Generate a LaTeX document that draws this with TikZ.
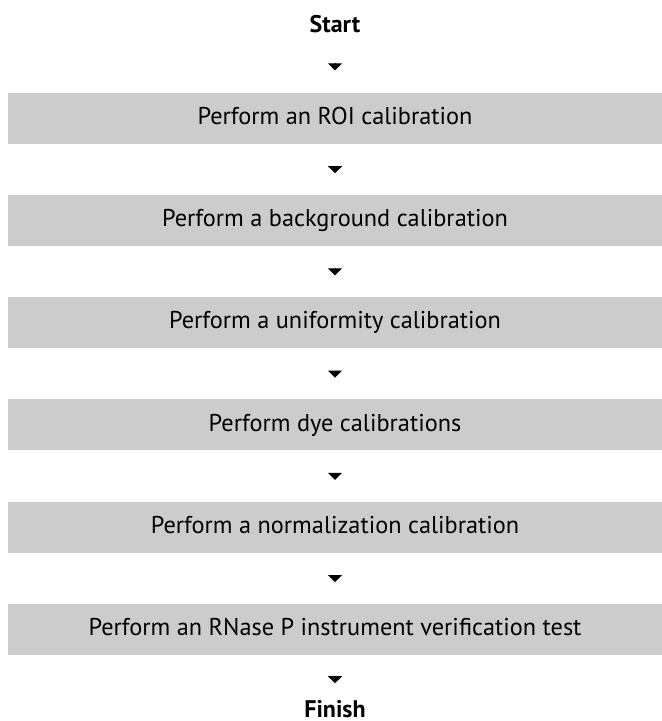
\documentclass[tikz,border=0pt]{standalone}
\usepackage{fontspec}
\setmainfont{PT Sans}
\usetikzlibrary{positioning}
\usetikzlibrary{arrows.meta}
\definecolor{stepgray}{HTML}{CCCCCC}

\begin{document}
\begin{tikzpicture}[
    font=\fontsize{12.15}{14}\selectfont,
    stepbox/.style={
        fill=stepgray,
        minimum width=327pt,
        minimum height=25.5pt,
        inner sep=0pt,
        text height=8.4pt,
        text depth=2.2pt,
    },
    ends/.style={
        font=\fontsize{12}{14}\selectfont\bfseries,
        inner sep=0pt,
        text depth=0pt,
    },
    flow/.style 2 args={
        -{Triangle[width=7pt,length=3.5pt]},
        shorten <=#1,
        shorten >=#2
    }
]
\useasboundingbox (0,0) rectangle (331pt,-360.5pt);

\node[ends, anchor=base] (start) at (167.5pt,-16.5pt) {Start};

\node[stepbox, below=29.5pt of start] (roi) {Perform an ROI calibration};
\node[stepbox, below=25.2pt of roi] (background) {Perform a background calibration};
\node[stepbox, below=25.2pt of background] (uniformity) {Perform a uniformity calibration};
\node[stepbox, below=25.2pt of uniformity] (dye) {Perform dye calibrations};
\node[stepbox, below=25.2pt of dye] (normalization) {Perform a normalization calibration};
\node[stepbox, below=25.2pt of normalization] (rnase) {Perform an RNase P instrument verification test};

\node[ends, text height=8.5pt, below=22.5pt of rnase] (finish) {Finish};

\draw[flow={15pt}{11pt}] (start) -- (roi);
\draw[flow={11pt}{10.7pt}] (roi) -- (background);
\draw[flow={11pt}{10.7pt}] (background) -- (uniformity);
\draw[flow={11pt}{10.7pt}] (uniformity) -- (dye);
\draw[flow={11pt}{10.7pt}] (dye) -- (normalization);
\draw[flow={11pt}{10.7pt}] (normalization) -- (rnase);
\draw[flow={10.5pt}{8.5pt}] (rnase) -- (finish);
\end{tikzpicture}
\end{document}
